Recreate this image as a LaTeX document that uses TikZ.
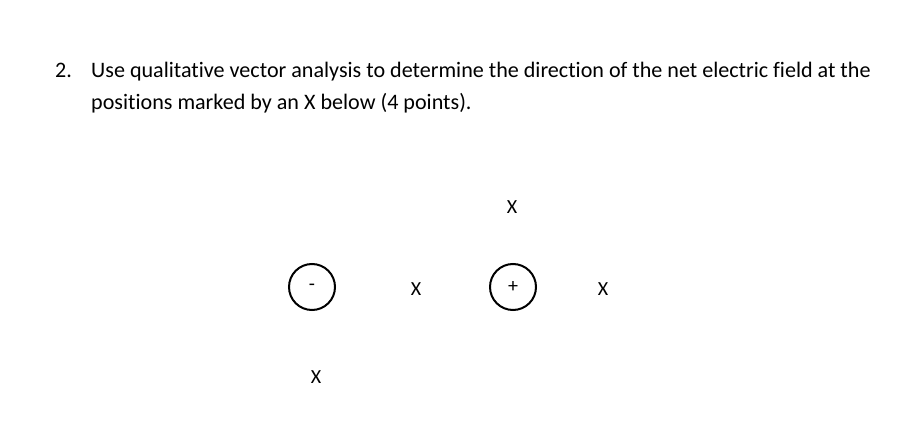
\documentclass[tikz,border=0pt]{standalone}
\usepackage{fontspec}
\setmainfont[Ligatures=NoCommon]{Carlito}
\begin{document}
\begin{tikzpicture}[x=1pt,y=-1pt,
  txt/.style={inner sep=0pt,anchor=base west,font=\fontsize{22.1}{26}\selectfont},
  xmark/.style={inner sep=0pt,font=\fontsize{20}{24}\selectfont},
  charge/.style={circle,draw,line width=2pt,minimum size=46pt,inner sep=0pt,font=\fontsize{20}{24}\selectfont}]
\useasboundingbox[fill=white] (0,0) rectangle (913,427);
\node[txt] (num) at (55,78) {2.};
\node[txt] (l1) at (91,78) {Use qualitative vector analysis to determine the direction of the net electric field at the};
\node[txt] (l2) at (91,110) {positions marked by an X below (4 points).};
\node[charge] (neg) at (312,287) {-};
\node[charge] (pos) at (513,287) {+};
\node[xmark] (xtop) at (512,207) {X};
\node[xmark] (xmid) at (416,289) {X};
\node[xmark] (xright) at (603,289) {X};
\node[xmark] (xbot) at (316,377) {X};
\end{tikzpicture}
\end{document}
